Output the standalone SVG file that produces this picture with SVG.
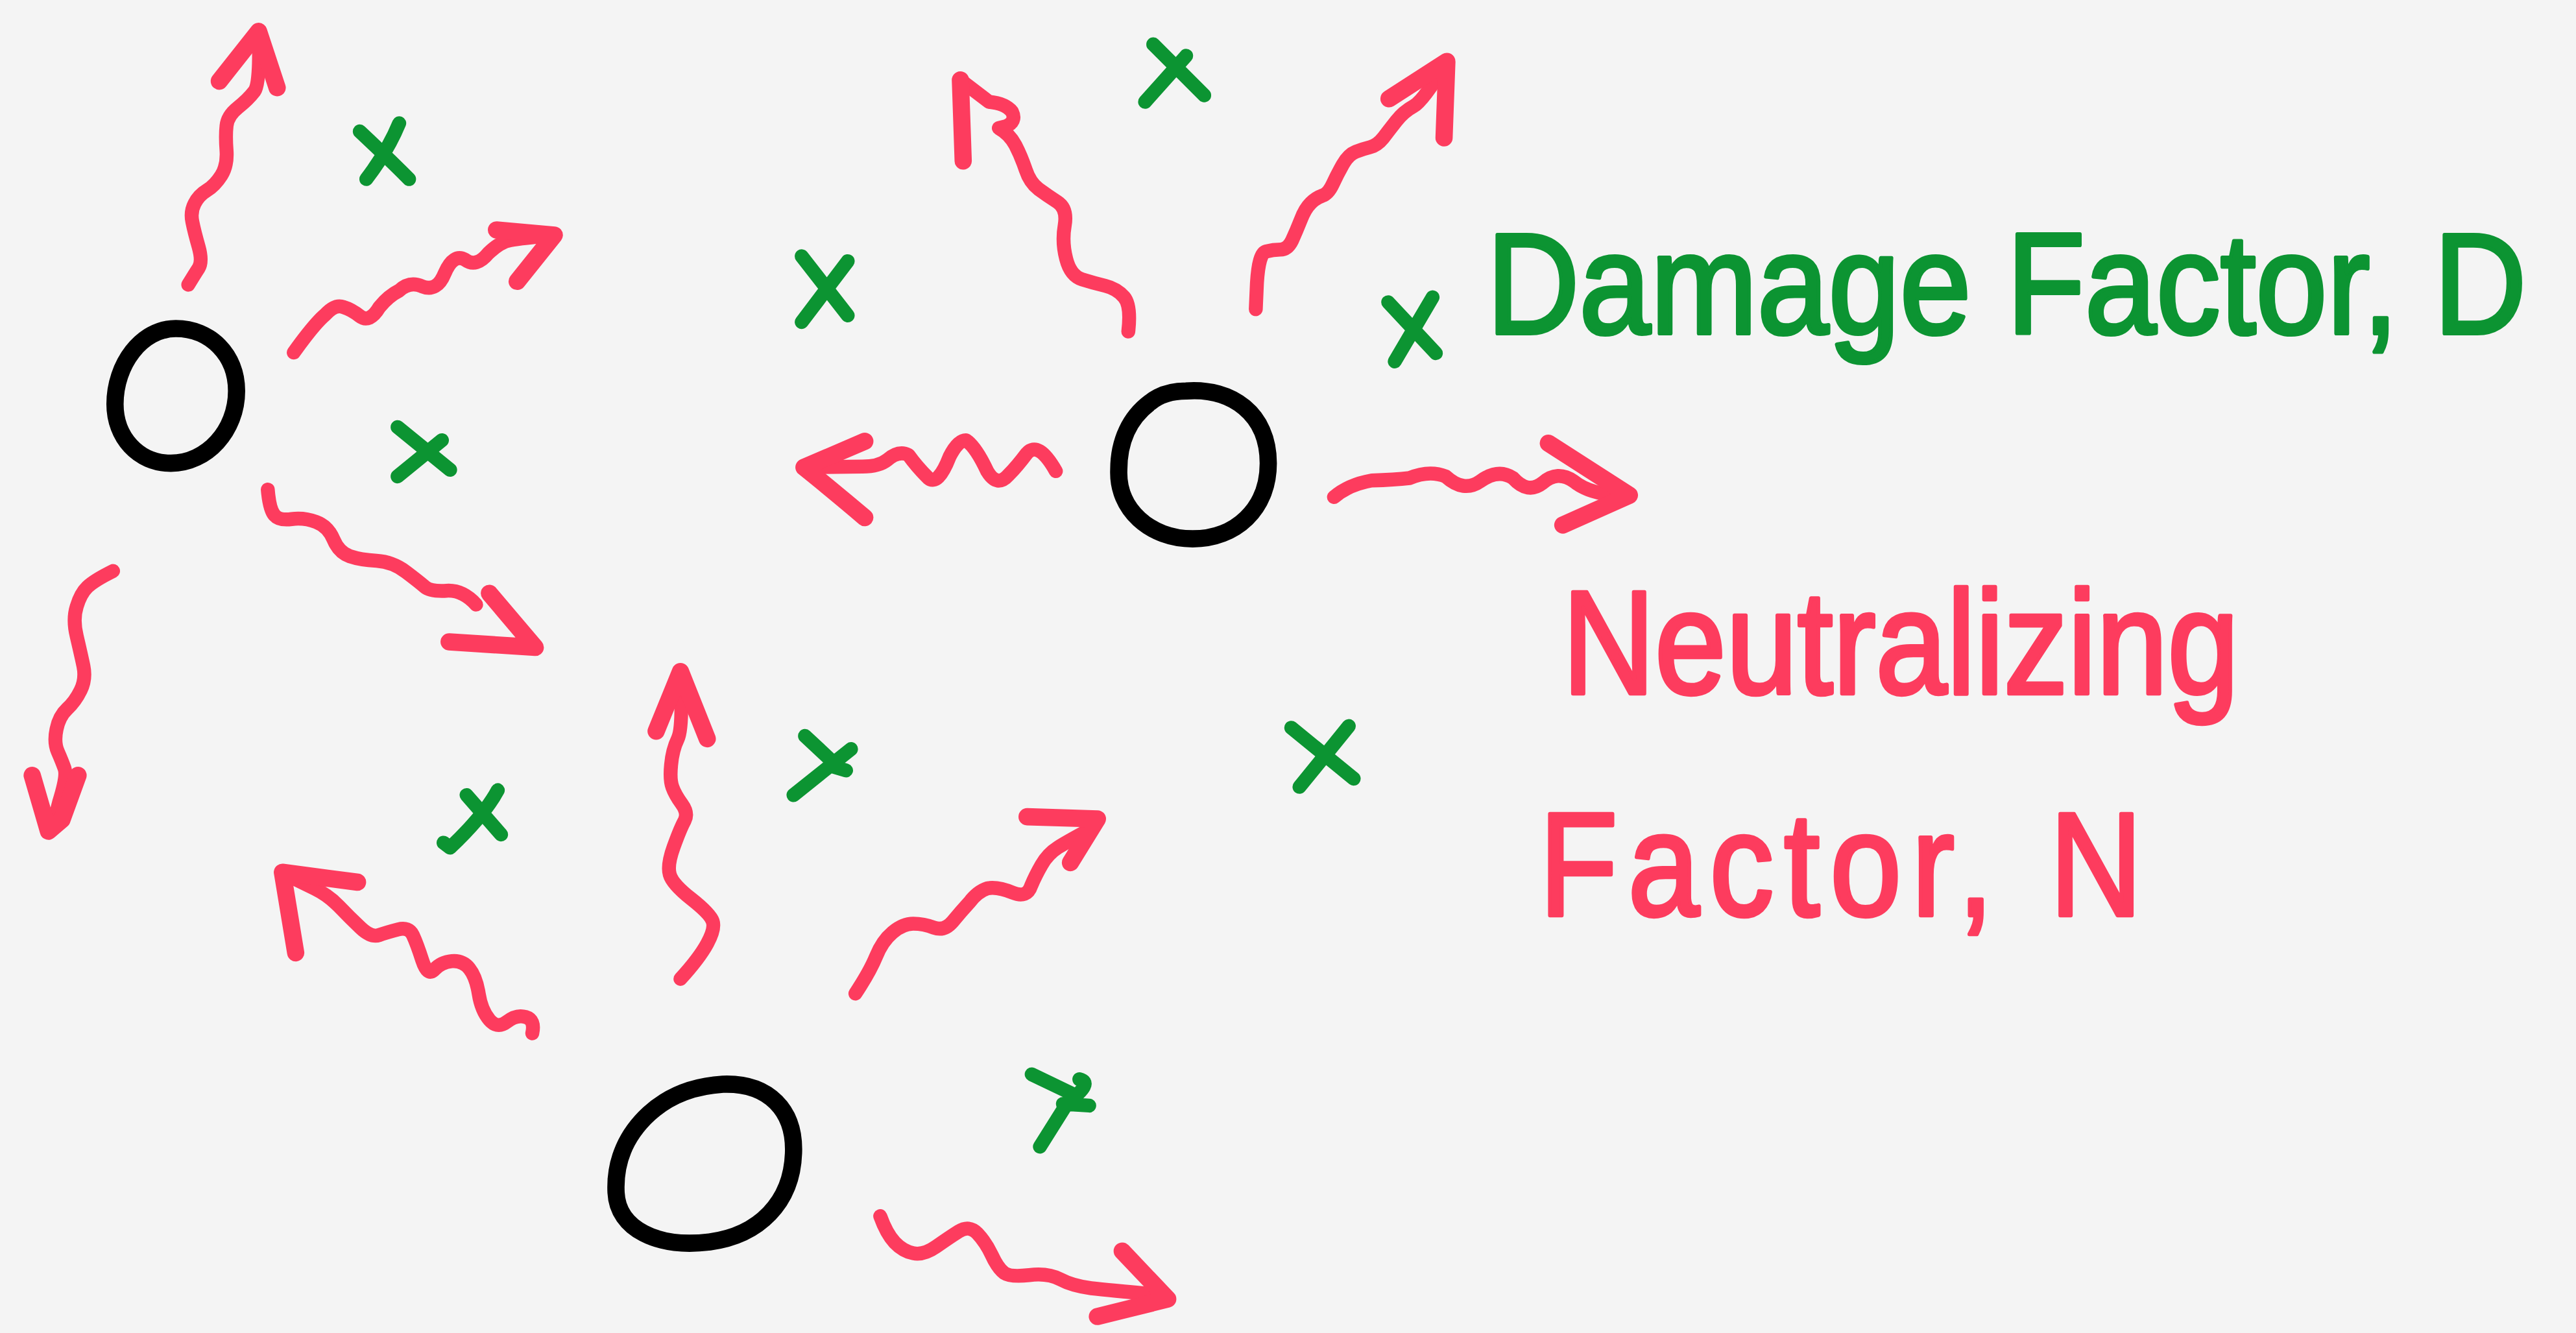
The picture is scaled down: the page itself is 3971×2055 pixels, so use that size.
<svg xmlns="http://www.w3.org/2000/svg" width="3971" height="2055" viewBox="0 0 3971 2055">
  <style>
    .ray { fill: none; stroke: #fd3c5e; stroke-width: 8.5; stroke-linecap: round; stroke-linejoin: round; }
    .head { fill: none; stroke: #fd3c5e; stroke-width: 10.5; stroke-linecap: round; stroke-linejoin: round; }
    .mark { fill: none; stroke: #0c9432; stroke-width: 8.5; stroke-linecap: round; stroke-linejoin: round; }
    .cell { fill: none; stroke: #000; stroke-width: 10.5; stroke-linecap: round; stroke-linejoin: round; }
    .label { font-family: "Liberation Sans", Arial, sans-serif; font-size: 78px; stroke-width: 2.2; stroke-linejoin: round; }
    .green { fill: #0c9432; stroke: #0c9432; }
    .pink { fill: #fd3c5e; stroke: #fd3c5e; }
  </style>
  <rect width="3971" height="2055" fill="#f4f4f4"/>
  <!-- drawing is laid out on a 1568-wide grid and scaled up -->
  <g transform="scale(2.5325)">
    <!-- particles -->
    <g id="particle-1">
      <path class="cell" d="M107,200 C128,200 144,216 144,238 C144,262 126,282 104,282 C84,282 70,266 70,246 C70,222 86,200 107,200 Z"/>
    </g>
    <g id="particle-2">
      <path class="cell" d="M722,238 C750,236 772,252 772,282 C772,310 752,328 726,328 C700,328 680,310 681,286 C681,268 688,254 700,245 C706,240 714,238 722,238 Z"/>
    </g>
    <g id="particle-3">
      <path class="cell" d="M440,660 C468,659 484,676 483,702 C482,732 462,752 432,756 C400,760 376,748 375,726 C374,706 382,690 395,678 C408,666 424,661 440,660 Z"/>
    </g>

    <!-- wavy emission arrows -->
    <g id="rays">
      <g id="ray-1">
        <path class="ray" d="M114.6,173.3 Q118.3,167.2 120.9,163.2 Q123.4,159.2 120.9,150.2 Q118.3,141.1 117.1,135.1 Q115.8,129 118.4,124 Q120.9,118.9 125.9,115.9 Q130.9,112.8 134.7,106.8 Q138.5,100.8 137.9,91.7 Q137.2,82.6 137.9,76.6 Q138.5,70.5 144.8,65.5 Q151.1,60.5 154.9,55.5 Q158.6,50.4 157.4,19.1"/>
        <path class="head" d="M133.5,49.4 L157.4,19.1 L168.7,53.4"/>
      </g>
      <g id="ray-2">
        <path class="ray" d="M178.8,214.6 Q191.4,197 198,191.5 Q204,185 209,186.9 Q214,188.4 219,192.4 Q225,197 231,186.9 Q236.7,180 243,176.9 Q249.3,171 256.9,174.3 Q266,178 270.7,166.3 Q276,154 283.3,158.2 Q290,163 297.2,154.2 Q304.7,147 311,146.1 Q317.3,145.1 337.4,143.1"/>
        <path class="head" d="M302.2,140 L337.4,143.1 L314.8,171.3"/>
      </g>
      <g id="ray-3">
        <path class="ray" d="M163,298 Q164,310 167,313.5 Q170,317 177.5,316 Q185,315 192.4,317.7 Q199.7,320.4 203,328.4 Q206.3,336.3 212.9,338.6 Q219.4,340.8 229.2,341.4 Q239,342 247.2,348.2 Q255.4,354.4 258.7,357.3 Q261.9,360.1 271.8,359.6 Q281.6,359 289.8,368"/>
        <path class="head" d="M297.9,361.2 L325.8,394.1 L273.4,390.7"/>
      </g>
      <g id="ray-4">
        <path class="ray" d="M68.8,347.6 Q57.3,353.3 53.2,357.3 Q49.1,361.2 46.7,369.2 Q44.2,377.1 46.7,387.3 Q49.1,397.5 50.8,405.5 Q52.4,413.4 49.1,420.2 Q45.8,427 40.9,431.5 Q36,436 34.4,444 Q32.7,451.9 35.2,457.6 Q37.7,463.3 39.3,467.8 Q40.9,472.3 36,488.2 L33,500"/>
        <path class="head" d="M19.6,472 L29.5,506 L37.7,499 L47.5,472"/>
      </g>
      <g id="ray-5">
        <path class="ray" d="M324,629 Q325.8,620.8 320,619.1 Q314.3,617.4 308.6,622 Q302.8,626.5 297.9,620.8 Q293,615.1 291.4,604.9 Q289.8,594.7 285.7,589.6 Q281.6,584.5 275,585.1 Q268.5,585.7 264.4,590.2 Q260.3,594.7 257,584.5 Q253.7,574.3 251.3,569.2 Q248.8,564.1 242.3,565.8 Q235.7,567.5 230.8,569.2 Q225.9,570.9 219.4,564.7 Q212.8,558.5 206.3,551.7 Q199.7,544.9 191.5,540.9 Q183.3,536.9 171.9,531.3"/>
        <path class="head" d="M217.6,537 L171.9,531 L180,580"/>
      </g>
      <g id="ray-6">
        <path class="ray" d="M414.2,595.9 Q425.6,583.4 430.5,574.4 Q435.4,565.3 433.8,560.8 Q432.2,556.2 420.8,547.2 Q409.3,538.1 407.7,532.4 Q406,526.7 410.1,515.4 Q414.2,504.1 416.7,499.6 Q419.1,495 415,489.4 Q410.9,483.7 409.3,479.2 Q407.6,474.6 408.5,465.6 Q409.3,456.5 412.6,449.7 Q415.8,442.9 414.2,411.1"/>
        <path class="head" d="M399.4,445.1 L414.2,408.8 L430.5,449.7"/>
      </g>
      <g id="ray-7">
        <path class="ray" d="M520.7,604.8 Q529.5,591.5 533.3,582.2 Q537,572.9 543.3,567.6 Q549.6,562.3 555.9,562.3 Q562.2,562.3 568.5,564.7 Q574.8,567 579.9,561 Q584.9,555 590,549.4 Q595,542.7 601.3,540.7 Q607.5,539.7 616.4,543.4 Q625.2,547 627.7,539.1 Q630.2,533.1 634,526.5 Q637.8,519.8 644.1,515.8 Q650.4,511.8 665.5,503.8"/>
        <path class="head" d="M625.2,497.2 L668,498.5 L651.6,525.1"/>
      </g>
      <g id="ray-8">
        <path class="ray" d="M535.8,740.3 Q539.6,750.9 544.6,756.3 Q549.6,761.6 555.9,762.9 Q562.2,764.2 569.8,758.9 Q577.3,753.6 583.6,749.6 Q589.9,745.6 595,750.9 Q600,756.2 603.8,764.2 Q607.5,772.2 611.3,774.9 Q615.1,777.5 626.5,776.2 Q637.8,774.8 645.4,778.8 Q652.9,782.8 664.2,784.2 Q675.5,785.5 705.7,788.1"/>
        <path class="head" d="M683.1,761.6 L710.8,790.8 L668,801.4"/>
      </g>
      <g id="ray-9">
        <path class="ray" d="M686.8,201.8 Q688.6,185.9 684.2,180.8 Q679.8,175.7 672.8,174 Q665.7,172.3 658.7,170.1 Q651.6,167.8 649,157.6 Q646.3,147.4 648.1,137.2 Q649.8,127 643.7,123 Q637.5,119 632.2,115.1 Q626.9,111.1 624.3,103.2 Q621.6,95.2 618.1,88.4 Q614.5,81.6 608,78 L612,77 Q619,74 616,68 Q612,63 602,62 L584.6,48.7"/>
        <path class="head" d="M584.6,48.7 L586.3,98"/>
      </g>
      <g id="ray-10">
        <path class="ray" d="M764.4,188.2 L765.1,172.3 Q766.2,154.2 770.6,153.1 Q775,151.9 779.4,151.9 Q783.8,151.9 786.5,146.3 Q789.1,140.6 791.8,133.8 Q794.4,127 797.9,123.6 Q801.4,120.2 805,119.1 Q808.5,117.9 811.2,112.2 Q813.8,106.5 817.3,100.3 Q820.8,94.1 825.2,92.4 Q829.6,90.7 834,89.6 Q838.4,88.4 842,83.9 Q845.5,79.3 849.9,73.7 Q854.3,68 860.5,64.6 Q866.6,61.2 880.7,37.4"/>
        <path class="head" d="M845.5,60.1 L880.7,37.4 L879,83.9"/>
      </g>
      <g id="ray-11">
        <path class="ray" d="M642.7,286.8 Q632,268 625,276 Q619,284 614,289 Q607,297 601,287 Q594,272 588,268 Q583,268 578,278 Q571,296 565,291 Q558,284 553,277 Q547,274 540,280 Q535,284 525,284 L489.4,284.5"/>
        <path class="head" d="M526.4,268.6 L489.4,284.5 Q505,297 526.4,315.1"/>
      </g>
      <g id="ray-12">
        <path class="ray" d="M812,302.6 Q820.8,295 834.9,292.5 Q849,292 858,291 Q870,286 880,290 Q891,300 901,293 Q912,285 921,291 Q930,301 939,294 Q948,286 958,293 Q969,302 991.8,301.5"/>
        <path class="head" d="M942.5,269.8 L991.8,301.5 L951.3,319.6"/>
      </g>
    </g>

    <!-- damage sites -->
    <g id="damage-marks">
      <path class="mark" d="M243,75 Q236,92 223,109 M219,80 Q235,95 249,109"/>
      <path class="mark" d="M488,156 L516,192 M516,159 L488,196"/>
      <path class="mark" d="M702,27 L733,58 M722,34 L697,62"/>
      <path class="mark" d="M845,184 L874,215 M872,181 L849,220"/>
      <path class="mark" d="M242,260 L274,286 M269,268 L242,290"/>
      <path class="mark" d="M284,484 L305,508 M303,481 Q295,496 274,516 L270,513"/>
      <path class="mark" d="M490,448 L505,462 M518,456 L483,484 M505,466 L515,469"/>
      <path class="mark" d="M786,443 L824,474 M821,442 L791,479"/>
      <path class="mark" d="M628,654 L653,666 M657,657 Q666,659 650,671 L633,698 M647,672 L663,673"/>
    </g>

    <!-- legend -->
    <g id="label-damage">
      <text class="label green" transform="translate(905,203) scale(1,1.12)" x="0" y="0">Damage Factor, D</text>
    </g>
    <g id="label-neutralizing">
      <text class="label pink" transform="translate(951,422) scale(1,1.15)" x="0" y="0">Neutralizing</text>
      <text class="label pink" transform="translate(937,557) scale(1,1.15)" x="0" y="0" textLength="367" lengthAdjust="spacing">Factor, N</text>
    </g>
  </g>
</svg>
